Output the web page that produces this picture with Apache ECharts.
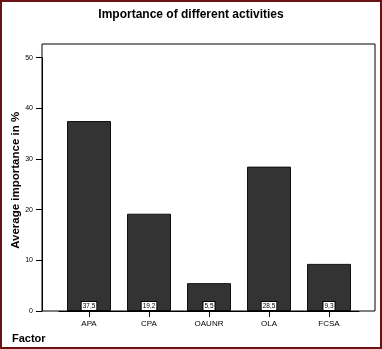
<!DOCTYPE html>
<html>
<head>
<meta charset="utf-8">
<script src="https://cdn.jsdelivr.net/npm/echarts@6/dist/echarts.min.js"></script>
<style>
html,body{margin:0;padding:0;background:#fff;}
#c{width:382px;height:349px;}
</style>
</head>
<body>
<div id="c"></div>
<script>
const categories = ['APA', 'CPA', 'OAUNR', 'OLA', 'FCSA'];
const values = [37.5, 19.2, 5.5, 28.5, 9.3];
const yTicks = [0, 10, 20, 30, 40, 50];

const chart = echarts.init(document.getElementById('c'), null, {renderer: 'canvas'});
const font = 'Liberation Sans, Arial, sans-serif';
chart.setOption({
  animation: false,
  backgroundColor: '#ffffff',
  title: {
    text: 'Importance of different activities',
    left: 'center',
    top: 4,
    textStyle: {fontFamily: font, fontSize: 12, fontWeight: 'bold', color: '#000'}
  },
  grid: {left: 59, right: 23, top: 57.7, bottom: 38, containLabel: false, outerBoundsMode: 'none'},
  xAxis: {
    type: 'category',
    data: categories,
    axisLine: {show: true, lineStyle: {color: '#000', width: 1}},
    axisTick: {show: true, alignWithLabel: true, length: 6, lineStyle: {color: '#000'}},
    axisLabel: {fontFamily: font, fontSize: 8, color: '#000', margin: 9}
  },
  yAxis: {
    type: 'value',
    min: yTicks[0],
    max: yTicks[yTicks.length - 1],
    interval: 10,
    offset: 17,
    name: 'Average importance in %',
    nameLocation: 'middle',
    nameRotate: 90,
    nameGap: 20,
    nameMoveOverlap: false,
    nameTextStyle: {fontFamily: font, fontSize: 11.5, fontWeight: 'bold', color: '#000', padding: [0, 0, 0, 8]},
    axisLine: {show: true, lineStyle: {color: '#000', width: 1}},
    axisTick: {show: true, length: 6, lineStyle: {color: '#000'}},
    axisLabel: {fontFamily: font, fontSize: 7, color: '#000', margin: 9},
    splitLine: {show: false}
  },
  series: [{
    type: 'bar',
    data: values,
    barWidth: 44,
    itemStyle: {color: '#333333', borderColor: '#111111', borderWidth: 1},
    label: {
      show: true,
      position: 'insideBottom',
      distance: 1,
      formatter: p => String(p.value).replace('.', ','),
      fontFamily: font,
      fontSize: 6.5,
      color: '#000',
      backgroundColor: '#fff',
      borderColor: '#000',
      borderWidth: 1,
      padding: [1, 1, 0, 1]
    }
  }],
  graphic: [
    {type: 'rect', shape: {x: 42, y: 44, width: 333, height: 267}, style: {fill: null, stroke: '#000', lineWidth: 1}, z: 100},
    {type: 'rect', shape: {x: 1, y: 1, width: 380, height: 347}, style: {fill: null, stroke: '#6b1212', lineWidth: 2}, z: 100},
    {type: 'text', x: 12, y: 333, style: {text: 'Factor', font: 'bold 11px ' + font, fill: '#000'}, z: 100}
  ]
});
</script>
</body>
</html>
